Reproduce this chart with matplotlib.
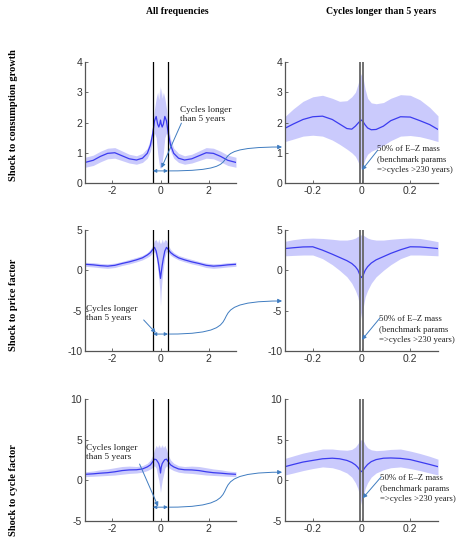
import numpy as np
import matplotlib
matplotlib.use('Agg')
import matplotlib.pyplot as plt
from matplotlib.path import Path
from matplotlib.patches import FancyArrowPatch

plt.rcParams['axes.unicode_minus'] = False

# ---- data ----
# all frequencies (x in radians)
x_all = [-3.14, -2.8, -2.5, -2.2, -1.9, -1.6, -1.3, -1.0, -0.75, -0.55, -0.42, -0.32,
         -0.25, -0.18, -0.12, -0.07, -0.03, 0.0, 0.03, 0.07, 0.12, 0.18, 0.25,
         0.32, 0.42, 0.55, 0.75, 1.0, 1.3, 1.6, 1.9, 2.2, 2.5, 2.8, 3.14]

cons_mean = [0.68, 0.75, 0.88, 0.98, 1.0, 0.9, 0.8, 0.76, 0.82, 0.98, 1.25, 1.65,
             2.05, 2.2, 1.95, 1.85, 1.95, 2.08, 1.95, 1.85, 1.95, 2.2, 2.05,
             1.65, 1.25, 0.98, 0.82, 0.76, 0.8, 0.9, 1.0, 0.98, 0.88, 0.75, 0.68]
cons_hi = [0.85, 0.92, 1.05, 1.15, 1.17, 1.06, 0.95, 0.9, 0.98, 1.15, 1.45, 1.9,
           2.45, 2.8, 3.0, 2.75, 3.2, 2.9, 3.15, 2.8, 3.0, 2.8, 2.45,
           1.9, 1.45, 1.15, 0.98, 0.9, 0.95, 1.06, 1.17, 1.15, 1.05, 0.92, 0.85]
cons_lo = [0.52, 0.58, 0.7, 0.8, 0.82, 0.74, 0.66, 0.62, 0.68, 0.82, 1.05, 1.4,
           1.65, 1.5, 1.0, 0.7, 0.5, 0.5, 0.5, 0.7, 1.0, 1.5, 1.65,
           1.4, 1.05, 0.82, 0.68, 0.62, 0.66, 0.74, 0.82, 0.8, 0.7, 0.58, 0.52]

price_mean = [0.75, 0.68, 0.58, 0.52, 0.62, 0.85, 1.05, 1.3, 1.55, 1.9, 2.2, 2.6,
              2.85, 2.4, 1.5, 0.6, -0.3, -1.0, -0.3, 0.6, 1.5, 2.4, 2.85,
              2.6, 2.2, 1.9, 1.55, 1.3, 1.05, 0.85, 0.62, 0.52, 0.58, 0.68, 0.75]
price_hi = [1.0, 0.95, 0.85, 0.8, 0.9, 1.1, 1.35, 1.6, 1.85, 2.2, 2.6, 3.1,
            3.7, 3.8, 3.4, 3.9, 3.3, 3.6, 3.3, 3.9, 3.4, 3.8, 3.7,
            3.1, 2.6, 2.2, 1.85, 1.6, 1.35, 1.1, 0.9, 0.8, 0.85, 0.95, 1.0]
price_lo = [0.5, 0.42, 0.32, 0.25, 0.35, 0.6, 0.8, 1.05, 1.3, 1.6, 1.85, 2.2,
            2.3, 1.6, 0.3, -1.0, -2.5, -4.4, -2.5, -1.0, 0.3, 1.6, 2.3,
            2.2, 1.85, 1.6, 1.3, 1.05, 0.8, 0.6, 0.35, 0.25, 0.32, 0.42, 0.5]

cycle_mean = [0.74, 0.8, 0.88, 0.94, 1.05, 1.2, 1.28, 1.3, 1.4, 1.65, 1.9, 2.3,
              2.6, 2.55, 2.3, 2.05, 1.6, 0.9, 1.6, 2.05, 2.3, 2.55, 2.6,
              2.3, 1.9, 1.65, 1.4, 1.3, 1.28, 1.2, 1.05, 0.94, 0.88, 0.8, 0.74]
cycle_hi = [1.05, 1.15, 1.3, 1.4, 1.55, 1.7, 1.75, 1.7, 1.8, 2.1, 2.5, 3.1,
            3.8, 4.3, 4.0, 4.4, 4.0, 4.3, 4.0, 4.4, 4.0, 4.3, 3.8,
            3.1, 2.5, 2.1, 1.8, 1.7, 1.75, 1.7, 1.55, 1.4, 1.3, 1.15, 1.05]
cycle_lo = [0.45, 0.5, 0.55, 0.6, 0.65, 0.75, 0.85, 0.9, 1.0, 1.2, 1.4, 1.6,
            1.8, 1.5, 0.6, 0.0, -0.8, -1.5, -0.8, 0.0, 0.6, 1.5, 1.8,
            1.6, 1.4, 1.2, 1.0, 0.9, 0.85, 0.75, 0.65, 0.6, 0.55, 0.5, 0.45]

# cycles longer than 5 years
x_low = [-0.314, -0.28, -0.24, -0.2, -0.16, -0.12, -0.09, -0.06, -0.04, -0.025, -0.015,
         -0.007, 0.0, 0.007, 0.015, 0.025, 0.04, 0.06, 0.09, 0.12, 0.16, 0.2, 0.24, 0.28, 0.314]

cons_mean_l = [1.81, 1.95, 2.1, 2.19, 2.21, 2.1, 1.95, 1.8, 1.78, 1.88, 1.97,
               2.04, 2.08, 2.02, 1.92, 1.82, 1.76, 1.77, 1.88, 2.06, 2.19, 2.18, 2.06, 1.93, 1.77]
cons_hi_l = [2.2, 2.45, 2.7, 2.85, 2.9, 2.8, 2.7, 2.72, 2.85, 3.0, 3.25,
             3.5, 3.62, 3.45, 3.1, 2.8, 2.65, 2.62, 2.66, 2.8, 2.92, 2.9, 2.75, 2.5, 2.22]
cons_lo_l = [1.37, 1.45, 1.55, 1.58, 1.55, 1.42, 1.28, 1.12, 1.0, 0.88, 0.72,
             0.55, 0.45, 0.6, 0.8, 0.95, 1.05, 1.12, 1.25, 1.4, 1.55, 1.57, 1.53, 1.45, 1.37]

price_mean_l = [2.7, 2.8, 2.9, 2.92, 2.5, 2.0, 1.6, 1.2, 0.85, 0.45, 0.05,
                -0.55, -0.9, -0.6, 0.0, 0.45, 0.9, 1.3, 1.7, 2.1, 2.55, 2.92, 2.9, 2.8, 2.7]
price_hi_l = [3.6, 3.8, 3.95, 4.0, 3.95, 3.85, 3.75, 3.75, 3.85, 4.0, 4.2,
              4.35, 4.4, 4.35, 4.2, 4.0, 3.85, 3.75, 3.75, 3.85, 3.95, 4.0, 3.95, 3.75, 3.55]
price_lo_l = [1.8, 1.85, 1.9, 1.9, 1.45, 0.7, 0.0, -0.8, -1.6, -2.5, -3.3,
              -4.6, -6.0, -4.6, -3.3, -2.5, -1.6, -0.8, 0.0, 0.7, 1.45, 1.9, 1.9, 1.85, 1.8]

cycle_mean_l = [1.68, 1.95, 2.25, 2.45, 2.65, 2.72, 2.65, 2.45, 2.2, 1.9, 1.6,
                1.25, 1.07, 1.25, 1.6, 1.95, 2.3, 2.55, 2.72, 2.75, 2.7, 2.55, 2.25, 1.95, 1.68]
cycle_hi_l = [2.7, 3.0, 3.35, 3.6, 3.85, 3.85, 3.75, 3.7, 3.8, 4.1, 4.5,
              4.9, 5.0, 4.9, 4.4, 4.0, 3.75, 3.65, 3.7, 3.8, 3.85, 3.6, 3.3, 2.95, 2.6]
cycle_lo_l = [0.66, 0.9, 1.2, 1.45, 1.65, 1.55, 1.3, 0.9, 0.4, -0.3, -1.0,
              -2.0, -3.0, -2.0, -1.0, -0.3, 0.4, 0.9, 1.3, 1.55, 1.65, 1.45, 1.2, 0.9, 0.66]

row_labels = ['Shock to consumption growth', 'Shock to price factor', 'Shock to cycle factor']
col_titles = ['All frequencies', 'Cycles longer than 5 years']
ylims = [(0, 4), (-10, 5), (-5, 10)]
yticks = [[0, 1, 2, 3, 4], [-10, -5, 0, 5], [-5, 0, 5, 10]]
band_5y = 2 * np.pi / 20      # 5 years, quarterly
band_230y = 2 * np.pi / 920   # 230 years, quarterly

# annotation anchor values (data units) per row
arrow_y = [0.4, -7.9, -3.3]           # double arrow between the 5-year lines
curve_end_y = [1.19, -3.8, 1.0]       # where the curve hits the right panel
left_txt = [(0.8, 2.55), (-3.12, -4.3), (-3.08, 4.46)]
left_arrow_from = [(0.87, 1.98), (-0.7, -6.15), (-0.87, 2.0)]
left_arrow_to = [(0.04, 0.5), (-0.2, -7.75), (-0.1, -3.2)]
right_txt = [(0.064, 1.25), (0.072, -5.55), (0.076, 0.75)]
right_arrow_from = [(0.066, 1.08), (0.076, -5.9), (0.08, 0.4)]
right_arrow_to = [(0.002, 0.43), (0.002, -8.6), (0.005, -2.2)]

left_data = [(cons_mean, cons_hi, cons_lo), (price_mean, price_hi, price_lo),
             (cycle_mean, cycle_hi, cycle_lo)]
right_data = [(cons_mean_l, cons_hi_l, cons_lo_l), (price_mean_l, price_hi_l, price_lo_l),
              (cycle_mean_l, cycle_hi_l, cycle_lo_l)]

line_c = '#3b3bf0'
band_c = '#cacafc'
arrow_c = '#3f7cc0'
serif = 'Liberation Serif'
sans = 'Liberation Sans'

W, H = 475, 541
fig = plt.figure(figsize=(W / 100, H / 100), dpi=100)

# axes boxes in pixels: (left, right) and (top, bottom)
left_px = (85, 236)
right_px = (285, 438)
rows_px = [(62, 183), (230, 351), (399, 521)]


def box(xs, ys):
    return [xs[0] / W, 1 - ys[1] / H, (xs[1] - xs[0]) / W, (ys[1] - ys[0]) / H]


def style(ax, ylim, yt, xt, xlim):
    ax.set_xlim(*xlim)
    ax.set_ylim(*ylim)
    ax.set_yticks(yt)
    ax.set_xticks(xt)
    for s in ['top', 'right']:
        ax.spines[s].set_visible(False)
    for s in ['left', 'bottom']:
        ax.spines[s].set_color('#555555')
        ax.spines[s].set_linewidth(0.9)
    ax.tick_params(direction='in', length=2, width=0.6, color='#555555',
                   labelsize=7.5, labelcolor='#333333', pad=2)
    for lab in ax.get_xticklabels() + ax.get_yticklabels():
        lab.set_family(sans)
    ax.set_facecolor('none')


for i in range(3):
    axl = fig.add_axes(box(left_px, rows_px[i]))
    axr = fig.add_axes(box(right_px, rows_px[i]))
    m, hi, lo = left_data[i]
    axl.fill_between(x_all, lo, hi, color=band_c, lw=0)
    axl.plot(x_all, m, color=line_c, lw=0.9)
    for v in (-band_5y, band_5y):
        axl.axvline(v, color='black', lw=0.9)
    style(axl, ylims[i], yticks[i], [-2, 0, 2], (-np.pi, np.pi))
    axl.set_xticklabels(['-2', '0', '2'])

    m, hi, lo = right_data[i]
    axr.fill_between(x_low, lo, hi, color=band_c, lw=0)
    axr.plot(x_low, m, color=line_c, lw=0.9)
    for v in (-band_230y, band_230y):
        axr.axvline(v, color='#666666', lw=1.3)
    style(axr, ylims[i], yticks[i], [-0.2, 0, 0.2], (-0.314, 0.314))
    axr.set_xticklabels(['-0.2', '0', '0.2'])

    # left annotations
    axl.text(*left_txt[i], 'Cycles longer\nthan 5 years', family=serif, fontsize=6.7,
             va='top', ha='left', linespacing=1.15, color='#222222')
    axl.annotate('', xy=left_arrow_to[i], xytext=left_arrow_from[i],
                 arrowprops=dict(arrowstyle='-|>', color=arrow_c, lw=0.7, mutation_scale=6,
                                 shrinkA=0, shrinkB=0))
    axl.annotate('', xy=(band_5y, arrow_y[i]), xytext=(-band_5y, arrow_y[i]),
                 arrowprops=dict(arrowstyle='<|-|>', color=arrow_c, lw=0.7, mutation_scale=5,
                                 shrinkA=0, shrinkB=0))

    # right annotations
    axr.text(*right_txt[i], '50% of E\u2013Z mass\n(benchmark params\n=>cycles >230 years)',
             family=serif, fontsize=6.3, va='top', ha='left', linespacing=1.4,
             color='#222222', clip_on=False)
    axr.annotate('', xy=right_arrow_to[i], xytext=right_arrow_from[i],
                 arrowprops=dict(arrowstyle='-|>', color=arrow_c, lw=0.7, mutation_scale=6,
                                 shrinkA=0, shrinkB=0))

    # connecting curve from left panel to right panel
    inv = fig.transFigure.inverted()
    p0 = inv.transform(axl.transData.transform((band_5y + 0.05, arrow_y[i])))
    p3 = inv.transform(axr.transData.transform((-0.326, curve_end_y[i])))
    dx = p3[0] - p0[0]
    verts = [p0, (p0[0] + 0.85 * dx, p0[1]), (p3[0] - 0.85 * dx, p3[1]), p3]
    path = Path(verts, [Path.MOVETO, Path.CURVE4, Path.CURVE4, Path.CURVE4])
    fig.patches.append(FancyArrowPatch(path=path, arrowstyle='-|>', color=arrow_c, lw=0.7,
                                       mutation_scale=6, transform=fig.transFigure))

    # row label
    yc = [115, 305, 490][i]
    fig.text(14 / W, 1 - yc / H, row_labels[i], rotation=90, ha='center', va='center',
             family=serif, fontweight='bold', fontsize=7.5)

fig.text(177 / W, 1 - 12 / H, col_titles[0], ha='center', va='center', family=serif,
         fontweight='bold', fontsize=7)
fig.text(381 / W, 1 - 12 / H, col_titles[1], ha='center', va='center', family=serif,
         fontweight='bold', fontsize=7)

fig.savefig('out.png', dpi=100)
